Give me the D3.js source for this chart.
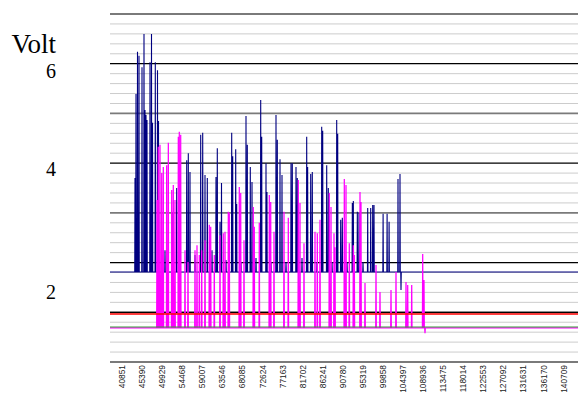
<!DOCTYPE html>
<html><head><meta charset="utf-8">
<script src="https://cdn.jsdelivr.net/npm/d3@7/dist/d3.min.js"></script>
<style>html,body{margin:0;padding:0;background:#fff;} svg{display:block;}</style>
</head><body><svg id="c" width="578" height="394"></svg>
<script>
// ---------- data ----------
const xTickLabels = ["40851","45390","49929","54468","59007","63546","68085","72624","77163","81702","86241","90780","95319","99858","104397","108936","113475","118014","122553","127092","131631","136170","140709"];
const yLabels = ["6","4","2"];
const yTitle = "Volt";
const xDomain = [38205, 144033];
const yDomain = [0, 7];
const blueBaseline = 1.81;
const magentaBaseline = 0.684;
const redLevel = 0.966;
const greenLevel = 0.704;
const blackLevel = 1.0;
const bluePeaks = [[43858,3.70],[44084,5.39],[44424,6.24],[44763,6.16],[45441,5.93],[45893,6.60],[46120,5.07],[46346,4.97],[46572,4.87],[47250,6.03],[47589,6.60],[47815,4.81],[48448,6.03],[48946,5.87],[49172,4.85],
[50642,2.25],[52451,3.00],[53288,3.50],[55549,4.06],[55911,4.20],[56295,3.82],[57426,2.15],[58715,4.57],[59167,4.61],[59688,3.76],[60208,3.70],[61270,2.25],[62174,3.72],[62468,4.30],[63079,2.82],[63418,3.60],[64436,2.05],
[65725,4.61],[65951,4.14],[66630,4.28],[66856,3.18],[67828,2.01],[68959,4.95],[69253,4.37],[69931,3.92],[70316,3.62],[71220,2.09],[72283,5.27],[72509,4.53],[73482,4.00],[73700,3.42],[74612,2.01],[75743,4.97],[76037,4.47],[76647,4.08],[77099,3.76],[78004,2.01],[79135,4.00],[79429,4.00],[80265,3.92],[80559,3.70],[81622,2.09],[82684,4.53],[82900,3.92],[83589,3.78],[83951,3.82],[85014,2.01],[86076,4.73],[86303,4.65],[87207,3.96],[87569,3.50],[88406,2.01],[89468,4.87],[89695,4.59],[90373,2.86],[90735,2.90],[91798,2.01],[93003,3.20],[93229,3.24],[94134,3.02],[94512,3.00],[95416,2.01],[96479,3.10],[97157,3.10],[97610,3.16],[97904,3.16],[99961,2.98],[100865,2.98],[101317,2.82],[103330,3.68],[103783,3.78],[104009,1.45]];
const magentaPeaks = [[48833,3.26],[49127,4.33],[49511,4.37],[49895,3.80],[50257,3.92],[51019,3.96],[51394,4.41],[52157,3.46],[52519,3.56],[52903,3.26],[53650,4.53],[53876,4.63],[54192,4.57],[55165,2.25],[55843,2.01],[57426,2.25],[57878,2.35],[58399,2.15],[58941,2.25],[59687,2.45],[60660,2.76],[60976,2.72],[61790,2.15],[63079,2.55],[63825,2.59],[64210,2.62],[64956,3.02],[65182,3.00],[67444,3.52],[67761,3.40],[68507,2.45],[70609,3.12],[70836,2.72],[71967,2.80],[74228,3.36],[74545,3.22],[75291,2.62],[77552,3.02],[78524,2.90],[80786,3.66],[81170,3.20],[82074,2.39],[84562,2.62],[85082,2.59],[85692,2.86],[87795,3.40],[88180,3.12],[88858,2.59],[89084,2.31],[91189,3.68],[91573,3.56],[92319,2.39],[93229,2.35],[93455,2.15],[94738,3.42],[94964,3.22],[95869,1.59],[98356,1.95],[99260,1.41],[101748,1.45],[102878,1.81],[105140,1.61],[105524,1.55],[106429,1.55],[108916,2.17],[109210,1.65],[109436,0.58]];

// ---------- layout ----------
const W = 578, H = 394;
const plot = {left:110, right:578, top:14, bottom:362};
const yLabelBaselines = [78, 176, 299];

const svg = d3.select("#c");
const x = d3.scaleLinear().domain(xDomain).range([plot.left, plot.right]);
const y = d3.scaleLinear().domain(yDomain).range([plot.bottom, plot.top]);

svg.append("clipPath").attr("id","clip").append("rect")
  .attr("x",plot.left).attr("y",plot.top-2).attr("width",plot.right-plot.left).attr("height",plot.bottom-plot.top+4);

// grid
const gridVals = d3.range(0, 35.5, 1).map(i => i*0.2);
const g = svg.append("g");
gridVals.forEach(v => {
  const major = Math.abs(v - Math.round(v)) < 1e-6;
  if (major) return;
  g.append("line").attr("x1",plot.left).attr("x2",plot.right)
    .attr("y1",y(v)).attr("y2",y(v)).attr("stroke","#cccccc").attr("stroke-width",1);
});
const blackMajors = [6,4,2];
d3.range(0,8).forEach(v => {
  const blk = blackMajors.includes(v);
  g.append("line").attr("x1",plot.left).attr("x2",plot.right)
    .attr("y1",y(v)).attr("y2",y(v))
    .attr("stroke", blk ? "#000" : "#7a7a7a").attr("stroke-width", blk ? 1.2 : 1.8);
});

// series
function spikes(peaks, base, halfW){
  const pts = [[xDomain[0], base]];
  peaks.slice().sort((a,b)=>a[0]-b[0]).forEach(p=>{
    pts.push([p[0]-halfW, base],[p[0],p[1]],[p[0]+halfW, base]);
  });
  pts.push([xDomain[1], base]);
  return pts;
}
const line = d3.line().x(d=>x(d[0])).y(d=>y(d[1]));
const s = svg.append("g").attr("clip-path","url(#clip)");
const flat = v => [[xDomain[0],v],[xDomain[1],v]];

s.append("path").datum(flat(blackLevel)).attr("d",line).attr("fill","none").attr("stroke","#000").attr("stroke-width",1.2);
s.append("path").datum(spikes(bluePeaks, blueBaseline, 60)).attr("d",line)
  .attr("fill","none").attr("stroke","#000080").attr("stroke-width",1.1).attr("stroke-linejoin","miter");
s.append("path").datum(spikes(magentaPeaks, magentaBaseline, 70)).attr("d",line)
  .attr("fill","none").attr("stroke","#ff00ff").attr("stroke-width",1.25);
s.append("path").datum(flat(redLevel)).attr("d",line).attr("fill","none").attr("stroke","#ff0000").attr("stroke-width",1.3);
s.append("path").datum(flat(greenLevel)).attr("d",line).attr("fill","none").attr("stroke","#3a9a3a").attr("stroke-width",1.2);

// x axis line
svg.append("line").attr("x1",plot.left).attr("x2",plot.right).attr("y1",plot.bottom).attr("y2",plot.bottom)
  .attr("stroke","#7a7a7a").attr("stroke-width",1.8);

// x tick labels
svg.append("g").selectAll("text").data(xTickLabels).join("text")
  .attr("transform", d => `translate(${x(+d)},${plot.bottom+3}) rotate(-90) scale(0.88,1)`)
  .attr("text-anchor","end").attr("dy","0.35em")
  .attr("font-family","Liberation Sans, Arial, sans-serif").attr("font-size","9.5px")
  .attr("fill","#222").text(d=>d);

// y labels
svg.append("text").attr("x",56).attr("y",53).attr("text-anchor","end")
  .attr("font-family","Liberation Serif, Times New Roman, serif").attr("font-size","27px").attr("fill","#000").text(yTitle);
svg.append("g").selectAll("text").data(yLabels).join("text")
  .attr("x",56).attr("y",(d,i)=>yLabelBaselines[i]).attr("text-anchor","end")
  .attr("font-family","Liberation Serif, Times New Roman, serif").attr("font-size","20px").attr("fill","#000").text(d=>d);
</script></body></html>
